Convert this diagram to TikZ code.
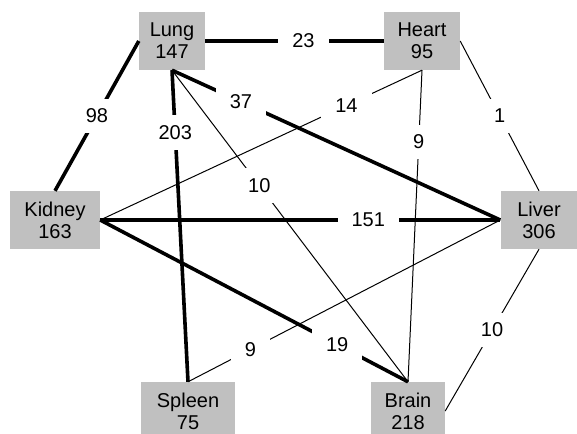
\documentclass[tikz,border=0pt]{standalone}
\usepackage{fontspec}
\setmainfont{Liberation Sans}
\definecolor{organfill}{HTML}{C0C0C0}
\tikzset{
  organ/.style={rectangle, fill=organfill, inner sep=0pt, minimum height=58pt, align=center, font=\fontsize{20}{22}\selectfont},
  wt/.style={fill=white, inner xsep=14pt, inner ysep=10pt, font=\fontsize{20}{22}\selectfont},
  strong/.style={line width=3.6pt},
  weak/.style={line width=1pt},
}
\begin{document}
\begin{tikzpicture}[x=1pt,y=-1pt]
  \useasboundingbox (0,0) rectangle (577,433);
  \clip (0,0) rectangle (577,433);
  % organs, centres in pixel coordinates
  \node[organ, minimum width=66pt] (lung) at (172,41) {Lung\\147};
  \node[organ, minimum width=76pt] (heart) at (422,41) {Heart\\95};
  \node[organ, minimum width=90pt] (kidney) at (55,220) {Kidney\\163};
  \node[organ, minimum width=77pt] (liver) at (539,220) {Liver\\306};
  \node[organ, minimum width=94pt] (spleen) at (188,411) {Spleen\\75};
  \node[organ, minimum width=74pt] (brain) at (408,411) {Brain\\218};
  % heavy links
  \foreach \u/\v/\w/\p in {lung.east/heart.west/23/0.55, lung.west/kidney.north/98/0.5,
      lung.south/liver.west/37/0.21, lung.south/spleen.north/203/0.2,
      kidney.east/liver.west/151/0.67, kidney.east/brain.north/19/0.77}
    \draw[strong] (\u) -- node[wt, pos=\p] {\w} (\v);
  % light links
  \foreach \u/\v/\w/\p in {lung.south/brain.north/10/0.37, heart.south/kidney.east/14/0.235,
      heart.south/brain.north/9/0.23, heart.east/liver.north/1/0.5,
      liver.west/spleen.north/9/0.8, liver.south/brain.east/10/0.5}
    \draw[weak] (\u) -- node[wt, pos=\p] {\w} (\v);
\end{tikzpicture}
\end{document}
